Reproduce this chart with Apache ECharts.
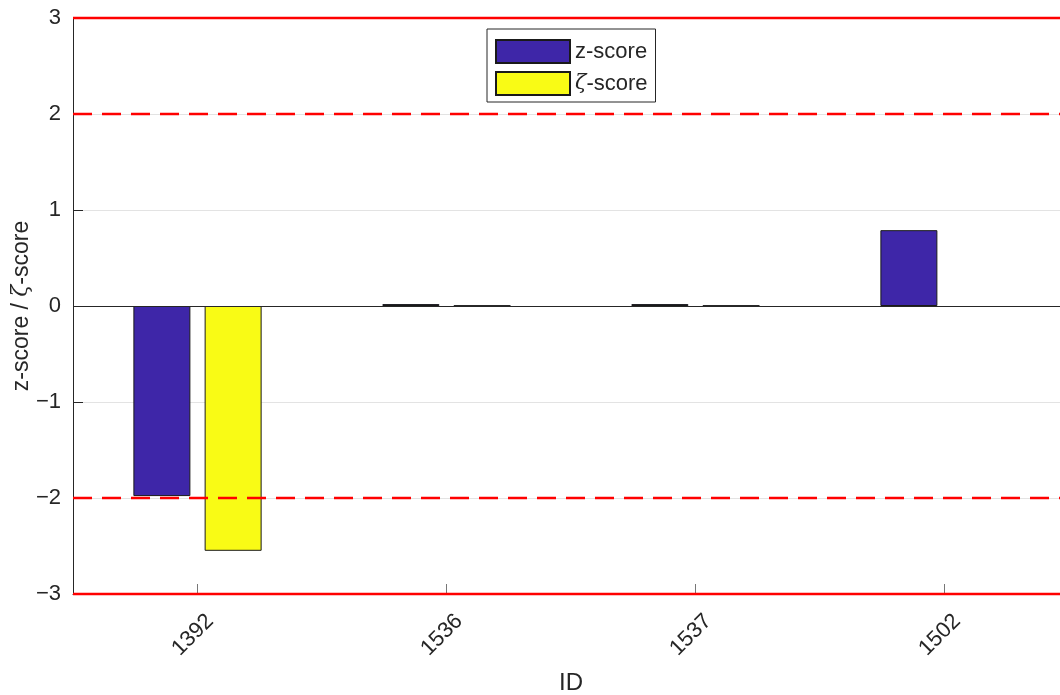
<!DOCTYPE html>
<html>
<head>
<meta charset="utf-8">
<title>z-score / ζ-score</title>
<script src="https://cdn.jsdelivr.net/npm/echarts@6/dist/echarts.min.js"></script>
<style>
  html, body { margin: 0; padding: 0; background: #fff; }
  #chart { width: 1060px; height: 695px; }
</style>
</head>
<body>
<div id="chart"></div>
<script>
// Participant IDs along the x axis
const categories = ['1392', '1536', '1537', '1502'];
// Scores per participant (null = no score reported)
const zScore = [-1.98, 0.02, 0.02, 0.79];
const zetaScore = [-2.55, 0.005, 0.005, null];
// Acceptance limits: solid = action limit, dashed = warning limit
const solidLimits = [3, -3];
const dashedLimits = [2, -2];
// Y axis range and step
const yRange = [-3, 3];
const yStep = 1;

const FONT = '"Liberation Sans", Arial, Helvetica, sans-serif';
const GREEK = '"DejaVu Serif", serif';
const TEXT = '#262626';
const BLUE = '#3E26A8';
const YELLOW = '#F9FB15';

const chart = echarts.init(document.getElementById('chart'), null, { renderer: 'canvas' });

const limitLines = [];
solidLimits.forEach(v => limitLines.push({
  yAxis: v,
  lineStyle: { color: '#ff0000', width: 2.4, type: 'solid' }
}));
dashedLimits.forEach(v => limitLines.push({
  yAxis: v,
  lineStyle: { color: '#ff0000', width: 2.4, type: [19, 10] }
}));
// zero reference line
limitLines.push({ yAxis: 0, lineStyle: { color: '#262626', width: 1, type: 'solid' } });

chart.setOption({
  animation: false,
  backgroundColor: '#fff',
  textStyle: { fontFamily: FONT, color: TEXT },
  grid: { left: 73, top: 18, bottom: 101, right: -9, containLabel: false, outerBoundsMode: 'none' },
  legend: {
    orient: 'vertical',
    left: 487,
    top: 29,
    padding: [10, 8, 6, 8],
    itemWidth: 74,
    itemHeight: 23,
    itemGap: 7,
    backgroundColor: '#fff',
    borderColor: '#262626',
    borderWidth: 1,
    borderRadius: 0,
    icon: 'rect',
    textStyle: {
      fontFamily: FONT, fontSize: 22, color: TEXT,
      rich: { g: { fontFamily: GREEK, fontStyle: 'italic', fontSize: 21, color: TEXT } }
    },
    formatter: name => name === 'zeta' ? '{g|ζ}-score' : 'z-score',
    data: ['z', 'zeta']
  },
  xAxis: {
    type: 'category',
    data: categories,
    boundaryGap: true,
    name: 'ID',
    nameLocation: 'middle',
    nameGap: 77,
    nameMoveOverlap: false,
    nameTextStyle: { fontFamily: FONT, fontSize: 24, color: TEXT },
    axisLine: { onZero: false, lineStyle: { color: '#262626', width: 1 } },
    axisTick: { show: true, inside: true, length: 10, alignWithLabel: true, lineStyle: { color: '#777' } },
    axisLabel: {
      rotate: 45, margin: 11, verticalAlign: 'top', padding: [7, 0, 0, 0],
      fontFamily: FONT, fontSize: 22, color: TEXT
    },
    splitLine: { show: false }
  },
  yAxis: {
    type: 'value',
    min: yRange[0],
    max: yRange[1],
    interval: yStep,
    name: '{t|z-score / }{g|ζ}{t|-score}',
    nameLocation: 'middle',
    nameGap: 40,
    nameMoveOverlap: false,
    nameTextStyle: {
      rich: {
        t: { fontFamily: FONT, fontSize: 23, color: TEXT },
        g: { fontFamily: GREEK, fontStyle: 'italic', fontSize: 22, color: TEXT }
      }
    },
    axisLine: { show: true, lineStyle: { color: '#262626', width: 1 } },
    axisTick: { show: true, inside: true, length: 10, lineStyle: { color: '#262626' } },
    axisLabel: {
      margin: 12, fontFamily: FONT, fontSize: 22, color: TEXT,
      formatter: v => String(v).replace('-', '\u2212')
    },
    splitLine: { show: true, lineStyle: { color: '#e3e3e3', width: 1 } }
  },
  series: [
    {
      name: 'z',
      type: 'bar',
      data: zScore,
      barWidth: 57,
      barGap: '25%',
      itemStyle: { color: BLUE, borderColor: '#1a1a1a', borderWidth: 1 },
      z: 2
    },
    {
      name: 'zeta',
      type: 'bar',
      data: zetaScore,
      barWidth: 57,
      barGap: '25%',
      itemStyle: { color: YELLOW, borderColor: '#1a1a1a', borderWidth: 1 },
      z: 2,
      markLine: {
        silent: true,
        symbol: ['none', 'none'],
        label: { show: false },
        z: 5,
        data: limitLines
      }
    }
  ]
});
</script>
</body>
</html>
